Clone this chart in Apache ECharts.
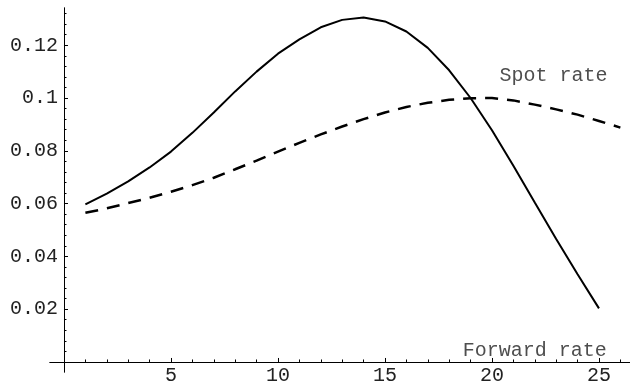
<!DOCTYPE html>
<html>
<head>
<meta charset="utf-8">
<script src="https://cdn.jsdelivr.net/npm/echarts@6/dist/echarts.min.js"></script>
<style>
html,body{margin:0;padding:0;background:#fff;}
#chart{width:630px;height:385px;}
</style>
</head>
<body>
<div id="chart"></div>
<script>
// ---- data ----
const years = [1,2,3,4,5,6,7,8,9,10,11,12,13,14,15,16,17,18,19,20,21,22,23,24,25,26];
const forwardRate = [0.0597,0.0638,0.0684,0.0737,0.0797,0.0868,0.0945,0.1025,0.1100,0.1168,
  0.1222,0.1268,0.1296,0.1305,0.1290,0.1252,0.1190,0.1105,0.1000,0.0878,
  0.0743,0.0604,0.0466,0.0332,0.0203];
const spotRate = [0.0565,0.0582,0.0602,0.0622,0.0645,0.0670,0.0698,0.0730,0.0763,0.0797,
  0.0830,0.0862,0.0892,0.0920,0.0945,0.0966,0.0982,0.0993,0.0999,0.1000,
  0.0991,0.0975,0.0957,0.0937,0.0913,0.0888];
const xMajorTicks = [5,10,15,20,25];
const xMinorTicks = [1,2,3,4,5,6,7,8,9,10,11,12,13,14,15,16,17,18,19,20,21,22,23,24,25,26];
const yMajorTicks = [0.02,0.04,0.06,0.08,0.1,0.12];
const yMinorTicks = [0.004,0.008,0.012,0.016,0.02,0.024,0.028,0.032,0.036,0.04,0.044,0.048,
  0.052,0.056,0.06,0.064,0.068,0.072,0.076,0.08,0.084,0.088,0.092,0.096,0.1,0.104,0.108,
  0.112,0.116,0.12,0.124,0.128,0.132];
const curveLabels = ['Forward rate','Spot rate'];

const FONT = 'Liberation Mono';
const TEXT_COLOR = '#222';
const pair = (xs, ys) => ys.map((v, i) => [xs[i], v]);

const chart = echarts.init(document.getElementById('chart'), null, {renderer: 'canvas'});
const lineStyleAxis = {color: '#000', width: 1};
const xRange = {min: -0.654, max: 26.45};
const yRange = {min: -0.0038, max: 0.1341};

chart.setOption({
  animation: false,
  backgroundColor: '#fff',
  grid: {left: 50, right: 0, top: 8, bottom: 13, containLabel: false, outerBoundsMode: 'none'},
  xAxis: [
    Object.assign({type: 'value', position: 'bottom', splitLine: {show: false},
      axisLine: {show: true, onZero: true, lineStyle: lineStyleAxis},
      axisTick: {show: true, inside: true, length: 4, lineStyle: lineStyleAxis, customValues: xMajorTicks},
      axisLabel: {show: true, customValues: xMajorTicks, fontFamily: FONT, fontSize: 20, color: TEXT_COLOR, margin: -6}
    }, xRange),
    Object.assign({type: 'value', position: 'bottom', splitLine: {show: false},
      axisLine: {show: true, onZero: true, lineStyle: lineStyleAxis},
      axisTick: {show: true, inside: true, length: 2.5, lineStyle: lineStyleAxis, customValues: xMinorTicks},
      axisLabel: {show: false}
    }, xRange)
  ],
  yAxis: [
    Object.assign({type: 'value', position: 'left', splitLine: {show: false},
      axisLine: {show: true, onZero: true, lineStyle: lineStyleAxis},
      axisTick: {show: true, inside: true, length: 4, lineStyle: lineStyleAxis, customValues: yMajorTicks},
      axisLabel: {show: true, customValues: yMajorTicks, fontFamily: FONT, fontSize: 20, color: TEXT_COLOR, margin: -8,
        formatter: v => String(+(+v).toFixed(3))}
    }, yRange),
    Object.assign({type: 'value', position: 'left', splitLine: {show: false},
      axisLine: {show: true, onZero: true, lineStyle: lineStyleAxis},
      axisTick: {show: true, inside: true, length: 2.5, lineStyle: lineStyleAxis, customValues: yMinorTicks},
      axisLabel: {show: false}
    }, yRange)
  ],
  series: [
    {
      name: curveLabels[0], type: 'line', data: pair(years, forwardRate),
      showSymbol: false, smooth: false, z: 3,
      lineStyle: {color: '#000', width: 2}
    },
    {
      name: curveLabels[1], type: 'line', data: pair(years, spotRate),
      showSymbol: false, smooth: false, z: 3,
      lineStyle: {color: '#000', width: 2.5, type: [13, 9]}
    },
    {
      type: 'scatter', symbolSize: 1, itemStyle: {color: 'rgba(0,0,0,0)'}, silent: true,
      data: [[22.0, 0.0042]],
      label: {show: true, position: 'inside', formatter: curveLabels[0], fontFamily: FONT, fontSize: 20, color: TEXT_COLOR}
    },
    {
      type: 'scatter', symbolSize: 1, itemStyle: {color: 'rgba(0,0,0,0)'}, silent: true,
      data: [[22.87, 0.1083]],
      label: {show: true, position: 'inside', formatter: curveLabels[1], fontFamily: FONT, fontSize: 20, color: TEXT_COLOR}
    }
  ]
});
</script>
</body>
</html>
